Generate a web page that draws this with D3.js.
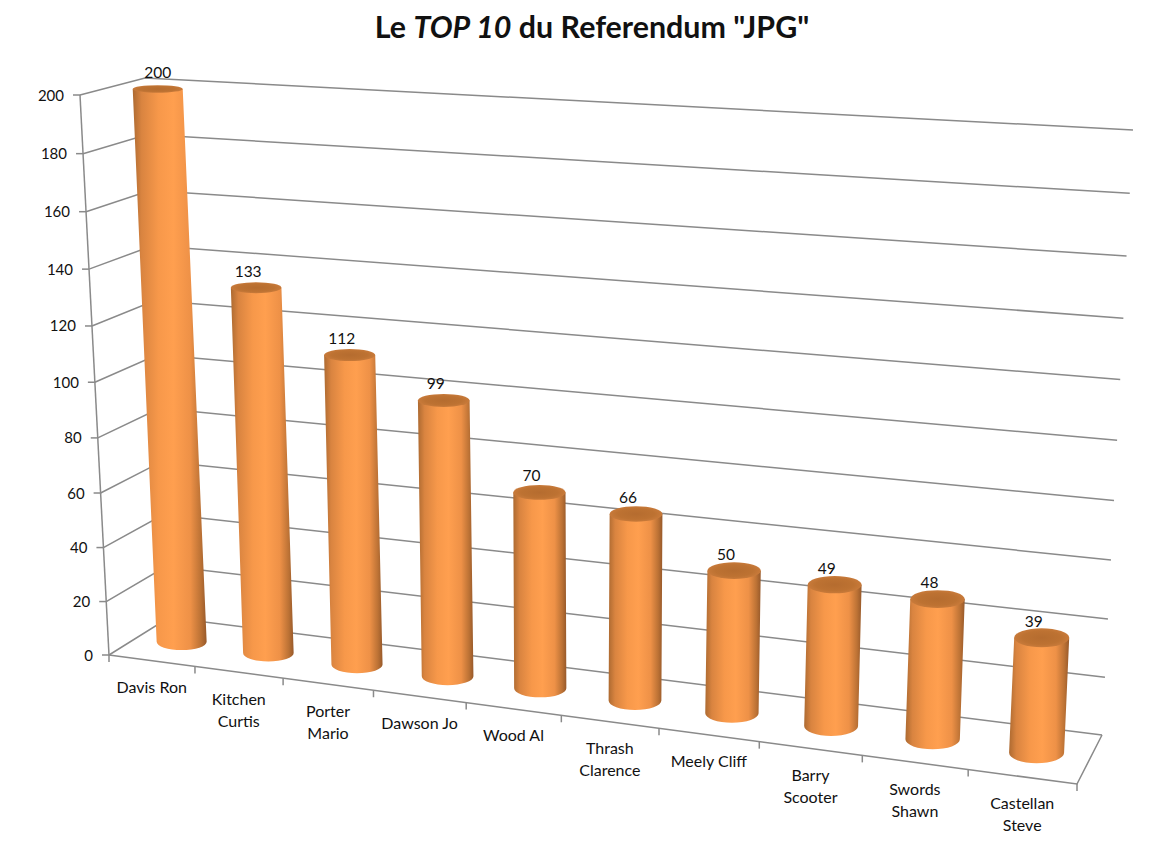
<!DOCTYPE html>
<html>
<head>
<meta charset="utf-8">
<script src="https://cdn.jsdelivr.net/npm/d3@7"></script>
<style>
  body { margin: 0; background: #fff; }
  text { font-family: Lato, "Open Sans", sans-serif; fill: #111; }
</style>
</head>
<body>
<div id="chart"></div>
<script>
const names = [
  ["Davis Ron"], ["Kitchen", "Curtis"], ["Porter", "Mario"], ["Dawson Jo"], ["Wood Al"],
  ["Thrash", "Clarence"], ["Meely Cliff"], ["Barry", "Scooter"], ["Swords", "Shawn"], ["Castellan", "Steve"]
];
const votes = [200, 133, 112, 99, 70, 66, 50, 49, 48, 39];
const yTicks = [0, 20, 40, 60, 80, 100, 120, 140, 160, 180, 200];

const width = 1167, height = 846;
const svg = d3.select("#chart").append("svg").attr("width", width).attr("height", height);

// Foreshortening along an edge of the 3D box
const warp = k => t => t / (t + k * (1 - t));
const uScale = d3.scaleLinear().domain([0, names.length]).range([0, 1]);
const vScale = d3.scaleLinear().domain([0, 200]).range([0, 1]);
const uBend = d3.scaleLinear().domain([0, 1]).range([1.14, 1.1]);
const u = (c, d) => warp(uBend(d))(uScale(c));
const v = val => warp(1.053)(vScale(val));

// The box corners, bottom and top of each vertical edge
const frontLeft = d3.scaleLinear().range([[109, 655], [80, 95]]);
const frontRight = d3.scaleLinear().range([[1077, 784], [1107, 152]]);
const backLeft = d3.scaleLinear().range([[169, 617.5], [145, 78]]);
const backRight = d3.scaleLinear().range([[1102, 735], [1133, 130]]);

const mix = (a, b, t) => [a[0] + (b[0] - a[0]) * t, a[1] + (b[1] - a[1]) * t];

// c = category position, val = axis value, d = depth (0 front, 1 back)
function project(c, val, d) {
  const h = v(val);
  const front = mix(frontLeft(h), frontRight(h), u(c, d));
  const back = mix(backLeft(h), backRight(h), u(c, d));
  return mix(front, back, d);
}

const axisColor = "#8a8a8a";
const line = d3.line();
const grid = svg.append("g").attr("fill", "none").attr("stroke", axisColor).attr("stroke-width", 1.5);

// Gridlines: left wall then back wall
yTicks.forEach(t => {
  grid.append("path").attr("d", line([project(0, t, 0), project(0, t, 1), project(names.length, t, 1)]));
  // tick mark on the value axis
  const p = project(0, t, 0);
  grid.append("path").attr("d", line([[p[0] - 7, p[1]], p]));
});

// Value axis and floor
grid.append("path").attr("d", line([project(0, 0, 0), project(0, 200, 0)]));
grid.append("path").attr("d", line([project(0, 0, 0), project(names.length, 0, 0), project(names.length, 0, 1)]));
d3.range(names.length + 1).forEach(i => {
  const p = project(i, 0, 0);
  grid.append("path").attr("d", line([p, [p[0], p[1] + 7]]));
});

svg.append("g").selectAll("text").data(yTicks).enter().append("text")
  .text(d => d)
  .attr("x", d => project(0, d, 0)[0] - 16)
  .attr("y", d => project(0, d, 0)[1] + 5.5)
  .attr("text-anchor", "end")
  .attr("font-size", 15);

// Category labels
const cats = svg.append("g").selectAll("text").data(names).enter().append("text")
  .attr("text-anchor", "middle")
  .attr("font-size", 16)
  .attr("transform", (d, i) => {
    const p = project(i + 0.5, 0, 0);
    return "translate(" + p[0] + "," + (p[1] + 32.5) + ")";
  });
cats.selectAll("tspan").data(d => d).enter().append("tspan")
  .text(d => d)
  .attr("x", 0)
  .attr("y", (d, i) => i * 22);

// Cylinders
const defs = svg.append("defs");
const side = defs.append("linearGradient").attr("id", "side");
[[0, "#ad6a31"], [0.12, "#d98440"], [0.35, "#f7984a"], [0.55, "#ff9f4f"], [0.78, "#ee9147"], [0.92, "#bc7235"], [1, "#97592a"]]
  .forEach(s => side.append("stop").attr("offset", s[0]).attr("stop-color", s[1]));
const cap = defs.append("radialGradient").attr("id", "cap");
[[0, "#b56c2f"], [0.7, "#bd7232"], [1, "#c87a3a"]]
  .forEach(s => cap.append("stop").attr("offset", s[0]).attr("stop-color", s[1]));

const halfWidth = d3.scaleLinear().domain([0, names.length - 1]).range([25, 27.5]);
const depthRadius = 0.22;

function ellipseOf(i, val) {
  const c = i + 0.5;
  const p = project(c, val, 0.5);
  const ry = Math.abs(project(c, val, 0.5 + depthRadius)[1] - project(c, val, 0.5 - depthRadius)[1]) / 2;
  return { x: p[0], y: p[1], rx: halfWidth(i), ry: ry };
}

const bars = svg.append("g").selectAll("g").data(votes).enter().append("g");
bars.append("path")
  .attr("fill", "url(#side)")
  .attr("d", (d, i) => {
    const a = ellipseOf(i, d), b = ellipseOf(i, 0);
    return "M" + (a.x - a.rx) + "," + a.y +
      "L" + (b.x - b.rx) + "," + b.y +
      "A" + b.rx + "," + b.ry + " 0 0 0 " + (b.x + b.rx) + "," + b.y +
      "L" + (a.x + a.rx) + "," + a.y + "Z";
  });
bars.append("ellipse")
  .attr("fill", "url(#cap)")
  .attr("cx", (d, i) => ellipseOf(i, d).x)
  .attr("cy", (d, i) => ellipseOf(i, d).y)
  .attr("rx", (d, i) => ellipseOf(i, d).rx)
  .attr("ry", (d, i) => ellipseOf(i, d).ry);

// Value labels
svg.append("g").selectAll("text").data(votes).enter().append("text")
  .text(d => d)
  .attr("text-anchor", "middle")
  .attr("font-size", 15.5)
  .attr("x", (d, i) => ellipseOf(i, d).x - (i === 0 ? 0 : 8))
  .attr("y", (d, i) => ellipseOf(i, d).y - 11);

// Title
const title = svg.append("text")
  .attr("x", 592).attr("y", 38)
  .attr("text-anchor", "middle")
  .attr("font-size", 30.4)
  .attr("font-weight", "bold");
title.append("tspan").text("Le ");
title.append("tspan").text("TOP 10").attr("font-style", "italic");
title.append("tspan").text(" du Referendum \"JPG\"");
</script>
</body>
</html>
